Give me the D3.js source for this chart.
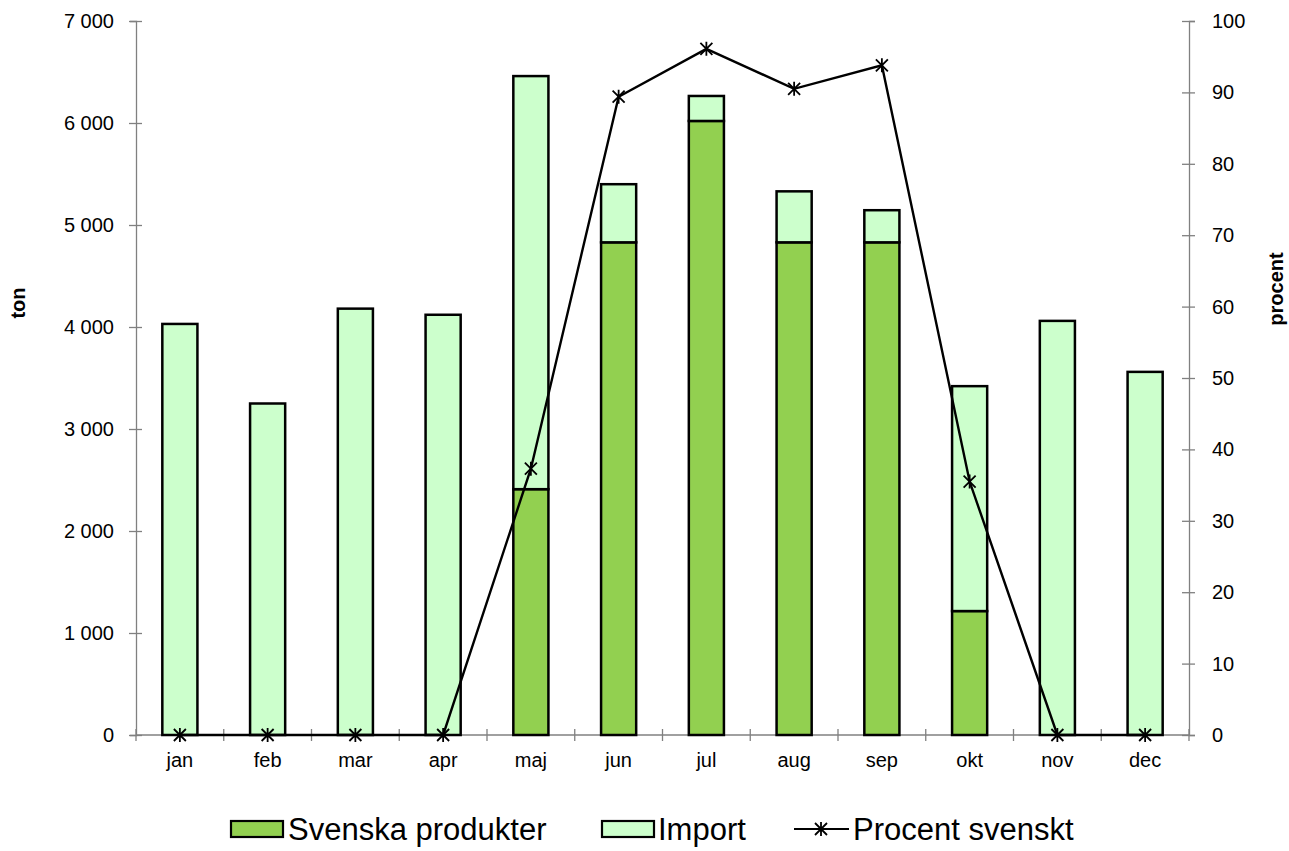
<!DOCTYPE html>
<html>
<head>
  <meta charset="utf-8">
  <script src="https://d3js.org/d3.v7.min.js"></script>
  <style>
    body { margin: 0; background: #fff; }
    text { font-family: "Liberation Sans", Arial, sans-serif; }
  </style>
</head>
<body>
  <div id="chart"></div>
  <script>
    // data
    var months = ["jan", "feb", "mar", "apr", "maj", "jun", "jul", "aug", "sep", "okt", "nov", "dec"];
    var svenska = [0, 0, 0, 0, 2410, 4830, 6020, 4830, 4830, 1215, 0, 0];
    var importTon = [4030, 3250, 4180, 4120, 4050, 570, 245, 500, 315, 2205, 4060, 3560];
    var procent = [0, 0, 0, 0, 37.3, 89.4, 96.1, 90.5, 93.8, 35.5, 0, 0];
    var leftTicks = [0, 1000, 2000, 3000, 4000, 5000, 6000, 7000];
    var rightTicks = [0, 10, 20, 30, 40, 50, 60, 70, 80, 90, 100];

    var W = 1289, H = 851;
    var mLeft = 136, mRight = 1189, mTop = 21, mBottom = 735;

    var svg = d3.select("#chart").append("svg")
      .attr("width", W).attr("height", H);

    var x = d3.scaleBand().domain(months).range([mLeft, mRight]).paddingInner(0).paddingOuter(0);
    var y = d3.scaleLinear().domain([0, 7000]).range([mBottom, mTop]);
    var y2 = d3.scaleLinear().domain([0, 100]).range([mBottom, mTop]);

    var fmt = function(d) { return d3.format(",")(d).replace(",", " "); };

    // left axis
    var gl = svg.append("g").attr("transform", "translate(" + mLeft + ",0)")
      .call(d3.axisLeft(y).tickValues(leftTicks).tickFormat(fmt).tickSize(6).tickPadding(16));
    gl.selectAll(".tick line").attr("x1", 6).attr("x2", -7);

    // right axis
    var gr = svg.append("g").attr("transform", "translate(" + mRight + ",0)")
      .call(d3.axisRight(y2).tickValues(rightTicks).tickSize(6).tickPadding(17));
    gr.selectAll(".tick line").attr("x1", -7).attr("x2", 6);

    // bottom axis, ticks on band edges
    var gb = svg.append("g").attr("transform", "translate(0," + mBottom + ")")
      .call(d3.axisBottom(x).tickSize(0).tickPadding(18));
    gb.selectAll(".tick")
      .append("line")
      .attr("x1", -x.bandwidth() / 2).attr("x2", -x.bandwidth() / 2)
      .attr("y1", -6).attr("y2", 6);
    gb.append("line")
      .attr("x1", mRight).attr("x2", mRight).attr("y1", -6).attr("y2", 6)
      .attr("stroke", "#808080").attr("stroke-width", 1.3);

    [gl, gr, gb].forEach(function(g) {
      g.selectAll(".domain").attr("stroke", "#808080").attr("stroke-width", 1.3);
      g.selectAll(".tick line").attr("stroke", "#808080").attr("stroke-width", 1.3);
      g.selectAll("text").style("font-size", "20px").attr("fill", "#000");
    });
    gb.select(".domain").attr("d", "M" + mLeft + ",0H" + mRight);

    // stacked bars
    var barW = x.bandwidth() * 0.4;
    var bars = svg.append("g");
    months.forEach(function(m, i) {
      var cx = x(m) + x.bandwidth() / 2;
      if (svenska[i] > 0) {
        bars.append("rect")
          .attr("x", cx - barW / 2).attr("width", barW)
          .attr("y", y(svenska[i])).attr("height", y(0) - y(svenska[i]))
          .attr("fill", "#92D050").attr("stroke", "#000").attr("stroke-width", 2.5);
      }
      bars.append("rect")
        .attr("x", cx - barW / 2).attr("width", barW)
        .attr("y", y(svenska[i] + importTon[i])).attr("height", y(svenska[i]) - y(svenska[i] + importTon[i]))
        .attr("fill", "#CCFFCC").attr("stroke", "#000").attr("stroke-width", 2.5);
    });

    // percent line
    var pts = months.map(function(m, i) { return [x(m) + x.bandwidth() / 2, y2(procent[i])]; });
    svg.append("path")
      .attr("d", d3.line()(pts))
      .attr("fill", "none").attr("stroke", "#000").attr("stroke-width", 2.4);

    function star(g, cx, cy, r) {
      var p = "M" + (cx - r) + "," + (cy - r) + "L" + (cx + r) + "," + (cy + r) +
              "M" + (cx - r) + "," + (cy + r) + "L" + (cx + r) + "," + (cy - r) +
              "M" + cx + "," + (cy - r - 1) + "L" + cx + "," + (cy + r + 1);
      g.append("path").attr("d", p).attr("stroke", "#000").attr("stroke-width", 1.8).attr("fill", "none");
    }
    var marks = svg.append("g");
    pts.forEach(function(p) { star(marks, p[0], p[1], 6); });

    // axis titles
    svg.append("text")
      .attr("transform", "translate(25,303) rotate(-90)")
      .attr("text-anchor", "middle")
      .style("font-size", "20px").style("font-weight", "bold")
      .text("ton");
    svg.append("text")
      .attr("transform", "translate(1283,289) rotate(-90)")
      .attr("text-anchor", "middle")
      .style("font-size", "20px").style("font-weight", "bold")
      .text("procent");

    // legend
    var lg = svg.append("g");
    var ly = 829;
    lg.append("rect").attr("x", 231).attr("y", ly - 8).attr("width", 52).attr("height", 16)
      .attr("fill", "#92D050").attr("stroke", "#000").attr("stroke-width", 2.2);
    lg.append("text").attr("x", 288).attr("y", ly + 11).style("font-size", "31px").text("Svenska produkter");
    lg.append("rect").attr("x", 602).attr("y", ly - 8).attr("width", 52).attr("height", 16)
      .attr("fill", "#CCFFCC").attr("stroke", "#000").attr("stroke-width", 2.2);
    lg.append("text").attr("x", 658).attr("y", ly + 11).style("font-size", "31px").text("Import");
    lg.append("line").attr("x1", 794).attr("x2", 849).attr("y1", ly).attr("y2", ly)
      .attr("stroke", "#000").attr("stroke-width", 2.2);
    star(lg, 821, ly, 6);
    lg.append("text").attr("x", 853).attr("y", ly + 11).style("font-size", "31px").text("Procent svenskt");
  </script>
</body>
</html>
